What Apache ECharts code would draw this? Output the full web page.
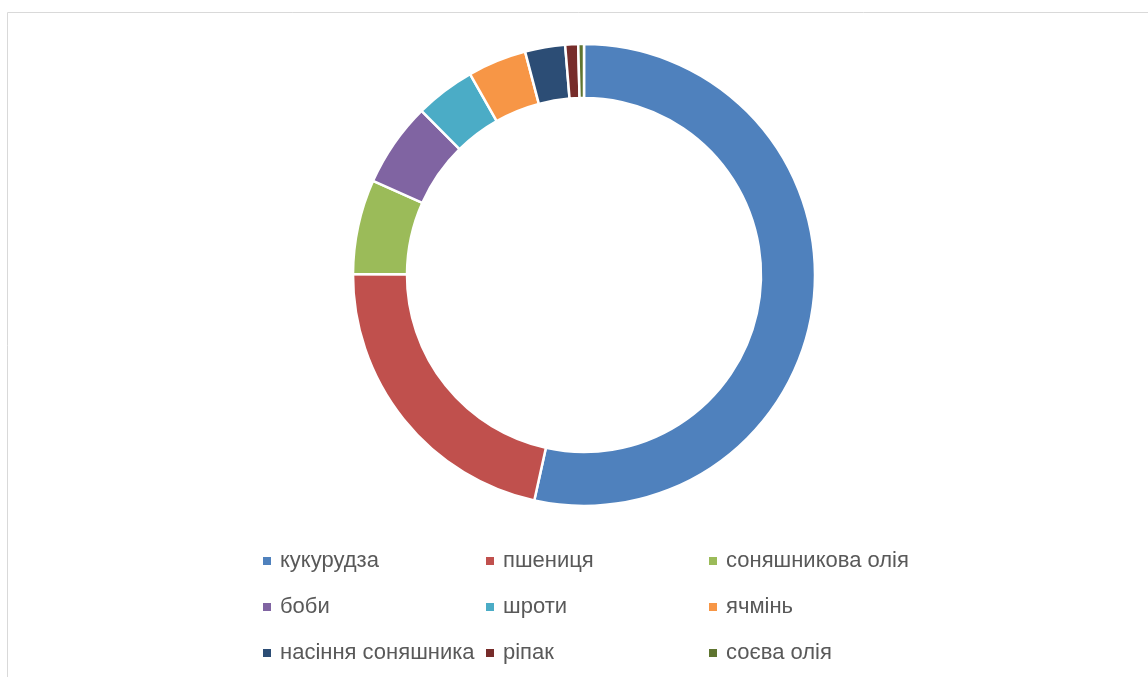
<!DOCTYPE html>
<html>
<head>
<meta charset="utf-8">
<script src="https://cdn.jsdelivr.net/npm/echarts@6/dist/echarts.min.js"></script>
<style>
html,body{margin:0;padding:0;background:#fff;}
#chart{width:1148px;height:677px;}
</style>
</head>
<body>
<div id="chart"></div>
<script>
const categories = ['кукурудза','пшениця','соняшникова олія','боби','шроти','ячмінь','насіння соняшника','ріпак','соєва олія'];
const shares = [53.4, 21.6, 6.6, 5.9, 4.2, 4.1, 2.8, 0.9, 0.4];
const colors = ['#4F81BD','#C0504D','#9BBB59','#8064A2','#4BACC6','#F79646','#2C4D75','#772C2A','#5F7530'];
const legendColumns = [
  [categories[0], categories[3], categories[6]],
  [categories[1], categories[4], categories[7]],
  [categories[2], categories[5], categories[8]]
];

const chart = echarts.init(document.getElementById('chart'), null, {renderer:'canvas'});
const legendLefts = [261, 484, 707];
const legends = legendColumns.map((col, i) => ({
  orient: 'vertical',
  left: legendLefts[i],
  top: 548,
  padding: 0,
  itemWidth: 10,
  itemHeight: 10,
  itemGap: 20,
  icon: 'rect',
  selectedMode: false,
  data: col,
  textStyle: {
    fontFamily: 'Liberation Sans',
    fontSize: 22,
    lineHeight: 26,
    color: '#595959',
    padding: [0, 0, 0, 3]
  }
}));

chart.setOption({
  animation: false,
  color: colors,
  graphic: [{
    type: 'rect',
    silent: true,
    shape: {x: 7.5, y: 12.5, width: 1150, height: 700},
    style: {fill: 'none', stroke: '#D9D9D9', lineWidth: 1}
  }],
  legend: legends,
  series: [{
    type: 'pie',
    center: [584, 275],
    radius: [177, 231],
    startAngle: 90,
    clockwise: true,
    label: {show: false},
    labelLine: {show: false},
    emphasis: {disabled: true},
    itemStyle: {borderColor: '#ffffff', borderWidth: 2.5},
    data: categories.map((c, i) => ({name: c, value: shares[i]}))
  }]
});
</script>
</body>
</html>
